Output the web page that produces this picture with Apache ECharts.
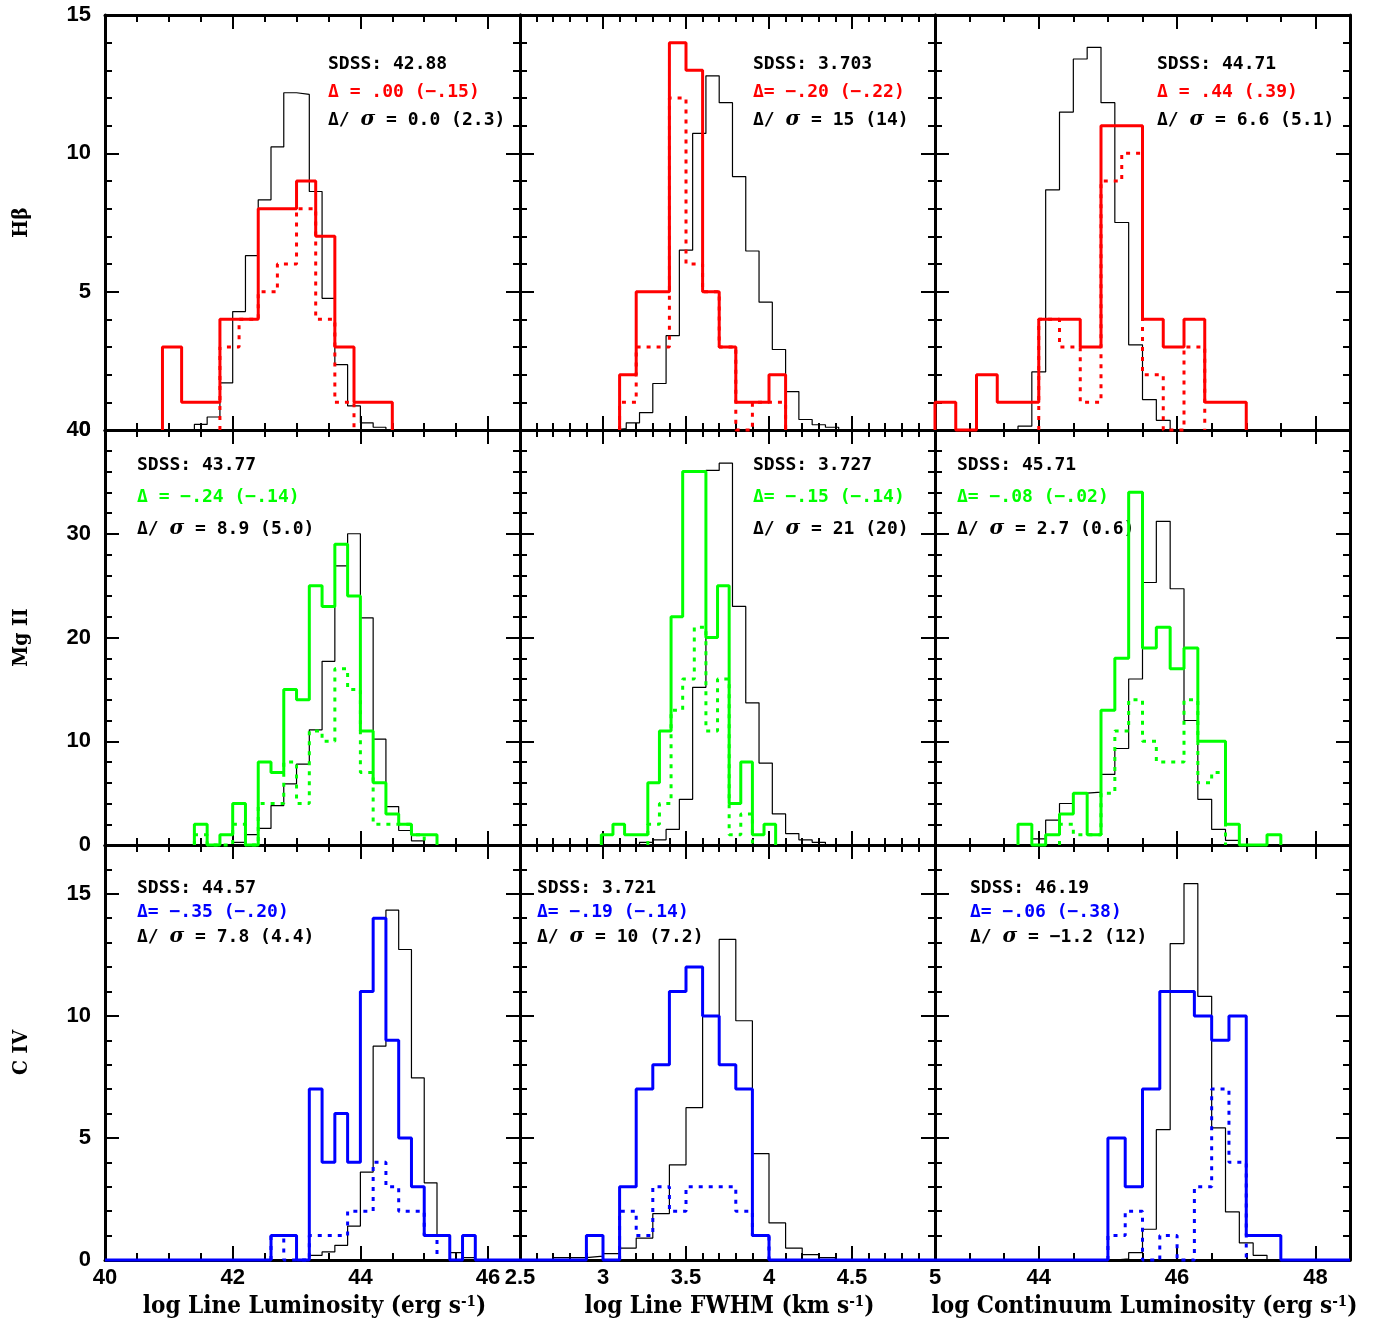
<!DOCTYPE html>
<html>
<head>
<meta charset="utf-8">
<script src="https://cdn.jsdelivr.net/npm/echarts@6/dist/echarts.min.js"></script>
<style>
html, body { margin: 0; padding: 0; background: #fff; }
#main { width: 1388px; height: 1321px; }
</style>
</head>
<body>
<div id="main"></div>
<script>
var chart = echarts.init(document.getElementById('main'));

// ---- axes ----
var xRange = [[40, 46.5], [2.5, 5], [42.5, 48.5]];
var xMajorStep = [2, 0.5, 2];
var xMinorStep = [0.5, 0.1, 0.5];
var xTickLabels = [[40, 42, 44, 46], [2.5, 3, 3.5, 4, 4.5, 5], [44, 46, 48]];
var yMax = [15, 40, 17];
var yMajorStep = [5, 10, 5];
var yMinorStep = [1, 2, 1];
var yTickLabels = [[0, 5, 10, 15], [0, 10, 20, 30, 40], [0, 5, 10, 15]];
var rowNames = ['Hβ', 'Mg II', 'C IV'];
var rowColors = ['#ff0000', '#00ff00', '#0000ff'];
var xTitles = [
    'log Line Luminosity (erg s{sup|-1})',
    'log Line FWHM (km s{sup|-1})',
    'log Continuum Luminosity (erg s{sup|-1})'
];

// ---- histograms: first bin edge, bin width, counts ----
// Hbeta
var hbLumSdss  = {x0: 41.4, w: 0.2, n: [0.2, 0.47, 1.7, 4.28, 6.3, 8.32, 10.23, 12.19, 12.13, 8.62, 4.76, 2.36, 0.87, 0.26, 0.1]};
var hbLumAll   = {x0: 40.9, w: 0.3, n: [3, 1, 1, 4, 4, 8, 8, 9, 7, 3, 1, 1]};
var hbLumSub   = {x0: 41.8, w: 0.3, n: [3, 4, 5, 6, 8, 4, 1]};
var hbFwhmSdss = {x0: 3.06, w: 0.08, n: [0.05, 0.26, 0.63, 1.68, 3.41, 6.5, 10.72, 12.8, 11.83, 9.16, 6.47, 4.62, 2.91, 1.39, 0.38, 0.19, 0.1]};
var hbFwhmAll  = {x0: 3.1, w: 0.1, n: [2, 5, 5, 14, 13, 5, 3, 1, 1, 2]};
var hbFwhmSub  = {x0: 3.1, w: 0.1, n: [1, 3, 3, 12, 6, 5, 3, 0, 1, 1]};
var hbContSdss = {x0: 43.7, w: 0.2, n: [0.14, 2.1, 8.68, 11.49, 13.41, 13.83, 11.83, 7.5, 3.08, 1.1, 0.35]};
var hbContAll  = {x0: 42.5, w: 0.3, n: [1, 0, 2, 1, 1, 4, 4, 3, 11, 11, 4, 3, 4, 1, 1]};
var hbContSub  = {x0: 44.0, w: 0.3, n: [4, 3, 1, 9, 10, 2, 0, 3]};
// Mg II
var mgLumSdss  = {x0: 42.0, w: 0.2, n: [0.26, 1.0, 1.6, 3.8, 5.9, 7.8, 11.1, 17.7, 26.9, 30.0, 21.9, 10.2, 3.7, 1.4, 0.4]};
var mgLumAll   = {x0: 41.4, w: 0.2, n: [2, 0, 1, 4, 0, 8, 7, 15, 14, 25, 23, 29, 24, 11, 6, 3, 2, 1, 1]};
var mgLumSub   = {x0: 41.4, w: 0.2, n: [1, 0, 0, 2, 0, 4, 4, 8, 4, 11, 10, 17, 15, 7, 2, 2, 2, 1]};
var mgFwhmSdss = {x0: 3.22, w: 0.08, n: [0.26, 0.5, 1.5, 4.4, 15.2, 36.1, 36.8, 23.0, 13.7, 7.9, 3.0, 1.1, 0.5, 0.26]};
var mgFwhmAll  = {x0: 2.99, w: 0.07, n: [1, 2, 1, 1, 6, 11, 22, 36, 36, 20, 25, 4, 8, 1, 2]};
var mgFwhmSub  = {x0: 3.27, w: 0.07, n: [2, 4, 13, 16, 21, 11, 16, 1, 3]};
var mgContSdss = {x0: 43.9, w: 0.2, n: [0.6, 2.4, 4.0, 5.0, 5.1, 6.8, 9.3, 16, 25.3, 31.2, 24.7, 12, 4.4, 1.5, 0.45]};
var mgContAll  = {x0: 43.7, w: 0.2, n: [2, 0, 1, 3, 5, 1, 13, 18, 34, 19, 21, 17, 19, 10, 10, 2, 0, 0, 1]};
var mgContSub  = {x0: 44.3, w: 0.2, n: [2, 1, 1, 5, 11, 14, 10, 8, 8, 14, 6, 7]};
// C IV
var civLumSdss  = {x0: 43.2, w: 0.2, n: [0.19, 0.33, 0.6, 1.39, 3.6, 8.76, 14.33, 12.72, 7.46, 3.16, 1.04, 0.3, 0.1]};
var civLumAll   = {x0: 42.6, w: 0.2, n: [1, 1, 0, 7, 4, 6, 4, 11, 14, 9, 5, 3, 1, 1, 0, 1]};
var civLumSub   = {x0: 42.6, w: 0.2, n: [1, 0, 0, 1, 1, 1, 2, 2, 4, 3, 2, 2, 1]};
var civFwhmSdss = {x0: 2.7, w: 0.1, n: [0.1, 0.1, 0.16, 0.26, 0.49, 0.9, 1.9, 3.9, 6.24, 10.0, 13.13, 9.8, 4.36, 1.52, 0.49, 0.22, 0.1]};
var civFwhmAll  = {x0: 2.9, w: 0.1, n: [1, 0, 3, 7, 8, 11, 12, 10, 8, 7, 1]};
var civFwhmSub  = {x0: 3.1, w: 0.1, n: [2, 1, 3, 2, 3, 3, 3, 2, 1]};
var civContSdss = {x0: 45.1, w: 0.2, n: [0.05, 0.3, 1.26, 5.34, 12.96, 15.42, 10.8, 5.41, 1.97, 0.7, 0.19]};
var civContAll  = {x0: 45.0, w: 0.25, n: [5, 3, 7, 11, 11, 10, 9, 10, 1, 1]};
var civContSub  = {x0: 45.0, w: 0.25, n: [1, 2, 0, 1, 0, 3, 7, 4]};

var panels = [
    [[hbLumSdss, hbLumAll, hbLumSub], [hbFwhmSdss, hbFwhmAll, hbFwhmSub], [hbContSdss, hbContAll, hbContSub]],
    [[mgLumSdss, mgLumAll, mgLumSub], [mgFwhmSdss, mgFwhmAll, mgFwhmSub], [mgContSdss, mgContAll, mgContSub]],
    [[civLumSdss, civLumAll, civLumSub], [civFwhmSdss, civFwhmAll, civFwhmSub], [civContSdss, civContAll, civContSub]]
];

// ---- annotations ----
var sdssMean = [['42.88', '3.703', '44.71'], ['43.77', '3.727', '45.71'], ['44.57', '3.721', '46.19']];
var deltaText = [
    ['Δ = .00 (−.15)', 'Δ= −.20 (−.22)', 'Δ = .44 (.39)'],
    ['Δ = −.24 (−.14)', 'Δ= −.15 (−.14)', 'Δ= −.08 (−.02)'],
    ['Δ= −.35 (−.20)', 'Δ= −.19 (−.14)', 'Δ= −.06 (−.38)']
];
var signifText = [
    ['0.0 (2.3)', '15 (14)', '6.6 (5.1)'],
    ['8.9 (5.0)', '21 (20)', '2.7 (0.6)'],
    ['7.8 (4.4)', '10 (7.2)', '−1.2 (12)']
];

// layout
var left0 = 105, top0 = 15, cell = 415;
var noteX = [[223, 233, 222], [32, 233, 22], [32, 17, 35]];
var noteY = [49, 35, 43];
var noteGap = [28, 32, 24.5];

var numFont = '"Liberation Sans", Arial, sans-serif';
var noteFont = '"DejaVu Sans Mono", monospace';
var titleFont = '"DejaVu Serif Condensed", "DejaVu Serif", serif';

function ticks(min, max, step) {
    var out = [];
    var start = Math.ceil(min / step - 1e-9) * step;
    for (var v = start; v <= max + 1e-9; v += step) out.push(+v.toFixed(6));
    return out;
}

function outline(h, from, to) {
    var pts = [];
    if (from != null) pts.push([from, 0]);
    pts.push([h.x0, 0]);
    h.n.forEach(function (v, i) {
        pts.push([h.x0 + i * h.w, v]);
        pts.push([h.x0 + (i + 1) * h.w, v]);
    });
    var end = h.x0 + h.n.length * h.w;
    pts.push([end, 0]);
    if (to != null) pts.push([to, 0]);
    return pts;
}

function axisPair(dim, g, pos, min, max, majors, minors, labels) {
    var main = {
        type: 'value', gridIndex: g, position: pos, min: min, max: max,
        axisLine: {show: true, onZero: false, lineStyle: {color: '#000', width: 3}},
        axisTick: {show: true, inside: true, length: 14, customValues: majors, lineStyle: {color: '#000', width: 2}},
        axisLabel: labels ? {
            show: true, customValues: labels, margin: dim === 'x' ? 7 : 14,
            color: '#000', fontFamily: numFont, fontWeight: 'bold', fontSize: 22
        } : {show: false},
        splitLine: {show: false}
    };
    var minor = {
        type: 'value', gridIndex: g, position: pos, min: min, max: max,
        axisLine: {show: false, onZero: false},
        axisTick: {show: true, inside: true, length: 7, customValues: minors, lineStyle: {color: '#000', width: 2}},
        axisLabel: {show: false},
        splitLine: {show: false}
    };
    return [main, minor];
}

var grids = [], xAxes = [], yAxes = [], series = [], graphics = [];

for (var r = 0; r < 3; r++) {
    for (var c = 0; c < 3; c++) {
        var g = r * 3 + c;
        grids.push({left: left0 + c * cell, top: top0 + r * cell, width: cell, height: cell});
        var xr = xRange[c];
        var xMaj = ticks(xr[0], xr[1], xMajorStep[c]);
        var xMin = ticks(xr[0], xr[1], xMinorStep[c]);
        var yMaj = ticks(0, yMax[r], yMajorStep[r]);
        var yMin = ticks(0, yMax[r], yMinorStep[r]);
        xAxes = xAxes.concat(axisPair('x', g, 'bottom', xr[0], xr[1], xMaj, xMin, r === 2 ? xTickLabels[c] : null));
        xAxes = xAxes.concat(axisPair('x', g, 'top', xr[0], xr[1], xMaj, xMin, null));
        yAxes = yAxes.concat(axisPair('y', g, 'left', 0, yMax[r], yMaj, yMin, c === 0 ? yTickLabels[r] : null));
        yAxes = yAxes.concat(axisPair('y', g, 'right', 0, yMax[r], yMaj, yMin, null));

        var hs = panels[r][c];
        var base = {
            type: 'line', xAxisIndex: g * 4, yAxisIndex: g * 4,
            symbol: 'none', showSymbol: false, clip: false, silent: true, animation: false
        };
        series.push(Object.assign({}, base, {
            data: outline(hs[0]), z: 2,
            lineStyle: {color: '#000', width: 1.2}
        }));
        series.push(Object.assign({}, base, {
            data: outline(hs[2]), z: 3,
            lineStyle: {color: rowColors[r], width: 3, type: [4, 6]}
        }));
        series.push(Object.assign({}, base, {
            data: r === 2 ? outline(hs[1], xr[0], xr[1]) : outline(hs[1]), z: 4,
            lineStyle: {color: rowColors[r], width: 3}
        }));

        // annotation text
        var tx = left0 + c * cell + noteX[r][c];
        var ty = top0 + r * cell + noteY[r];
        var fs = 18;
        graphics.push({type: 'text', x: tx, y: ty, style: {
            text: 'SDSS: ' + sdssMean[r][c], fill: '#000',
            font: 'bold ' + fs + 'px ' + noteFont, verticalAlign: 'middle'
        }});
        graphics.push({type: 'text', x: tx, y: ty + noteGap[r], style: {
            text: deltaText[r][c], fill: rowColors[r],
            font: 'bold ' + fs + 'px ' + noteFont, verticalAlign: 'middle'
        }});
        graphics.push({type: 'text', x: tx, y: ty + 2 * noteGap[r], style: {
            text: 'Δ/ {s|σ} = ' + signifText[r][c], fill: '#000',
            font: 'bold ' + fs + 'px ' + noteFont, verticalAlign: 'middle',
            rich: {s: {font: 'italic bold ' + (fs + 2) + 'px "DejaVu Serif", serif', fill: '#000'}}
        }});
    }
}

// row names
for (var i = 0; i < 3; i++) {
    graphics.push({type: 'text', x: 22, y: top0 + i * cell + cell / 2, rotation: Math.PI / 2, style: {
        text: rowNames[i], fill: '#000', font: 'bold 21px ' + titleFont,
        align: 'center', verticalAlign: 'middle'
    }});
}
// x titles
for (var j = 0; j < 3; j++) {
    graphics.push({type: 'text', x: left0 + j * cell + cell / 2 + 2, y: 1307, style: {
        text: xTitles[j], fill: '#000', font: 'bold 24px ' + titleFont,
        align: 'center', verticalAlign: 'middle',
        rich: {sup: {font: 'bold 15px ' + titleFont, fill: '#000', verticalAlign: 'top', padding: [0, 0, 9, 0]}}
    }});
}

var option = {
    animation: false,
    backgroundColor: '#fff',
    grid: grids,
    xAxis: xAxes,
    yAxis: yAxes,
    series: series,
    graphic: {elements: graphics}
};
chart.setOption(option);
</script>
</body>
</html>
